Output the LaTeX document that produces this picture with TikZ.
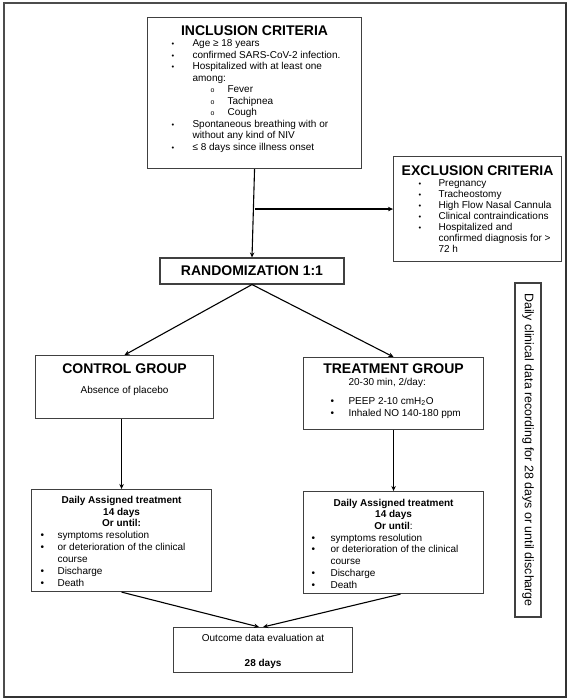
\documentclass[tikz,border=0pt]{standalone}
\usepackage{fontspec}
\setmainfont{Liberation Sans}
\usetikzlibrary{arrows.meta}
\setlength{\parskip}{0pt}
\newcommand{\pane}[3]{\begin{minipage}[t][#2][t]{#1}#3\end{minipage}}
\newcommand{\lin}[4]{\par\noindent\hangindent=#2\hangafter=1\hspace*{#1}\makebox[\dimexpr#2-#1\relax][l]{#3}#4}
\newcommand{\dotb}{{\fontsize{7.5}{7.5}\selectfont\textbullet}}
\newcommand{\ringb}{{\fontsize{7}{7}\selectfont o}}
\newcommand{\ttl}[1]{{\centering\fontsize{14}{14}\selectfont\bfseries #1\par}}

\begin{document}
\begin{tikzpicture}[x=1pt, y=-1pt]
			\tikzset{
				box/.style={draw=black!75, line width=1.1pt, inner sep=0pt},
				arr/.style={-{Stealth[length=5pt,width=4.5pt]}, line width=1.1pt}
			}
			%%%%% START %%%%%
			
			\useasboundingbox (0,0) rectangle (571,700);
			\draw[line width=1.2pt, color=black!70] (4,3) rectangle (566,697);
			\draw[line width=2pt, color=black!80] (4,697) -- (566,697) -- (566,3);
			
			\node[box, anchor=north west] (inc) at (147,17) {\pane{214pt}{151pt}{\vspace*{8pt}%
				\ttl{INCLUSION CRITERIA}\fontsize{10}{11.5}\selectfont
				\lin{24pt}{45pt}{\dotb}{Age ≥ 18 years}
				\lin{24pt}{45pt}{\dotb}{confirmed SARS-CoV-2 infection.}
				\lin{24pt}{45pt}{\dotb}{Hospitalized with at least one\\among:}
				\lin{63pt}{80pt}{\ringb}{Fever}
				\lin{63pt}{80pt}{\ringb}{Tachipnea}
				\lin{63pt}{80pt}{\ringb}{Cough}
				\lin{24pt}{45pt}{\dotb}{Spontaneous breathing with or\\without any kind of NIV}
				\lin{24pt}{45pt}{\dotb}{≤ 8 days since illness onset}\par}};
			
			\node[box, anchor=north west] (excl) at (393,156) {\pane{168pt}{105pt}{\vspace*{9pt}%
				\ttl{EXCLUSION CRITERIA}\fontsize{10}{11}\selectfont
				\lin{25pt}{45pt}{\dotb}{Pregnancy}
				\lin{25pt}{45pt}{\dotb}{Tracheostomy}
				\lin{25pt}{45pt}{\dotb}{High Flow Nasal Cannula}
				\lin{25pt}{45pt}{\dotb}{Clinical contraindications}
				\lin{25pt}{45pt}{\dotb}{Hospitalized and\\confirmed diagnosis for >\\72 h}\par}};
			
			\node[box, minimum width=184pt, minimum height=26pt, font=\fontsize{14}{14}\selectfont\bfseries] (rand) at (252,271) {RANDOMIZATION 1:1};
			
			\node[box, anchor=north west] (ctrl) at (35,355) {\pane{178pt}{63pt}{\vspace*{8pt}%
				\ttl{CONTROL GROUP}
				{\centering\fontsize{10}{20.5}\selectfont Absence of placebo\par}}};
			
			\node[box, anchor=north west] (treat) at (303,357) {\pane{180pt}{72pt}{\vspace*{6pt}%
				\ttl{TREATMENT GROUP}\fontsize{10}{12.5}\selectfont
				\lin{45pt}{45pt}{}{20-30 min, 2/day:}
				\fontsize{10}{12}\selectfont\par\vspace{7pt}
				\lin{27pt}{45pt}{\textbullet}{PEEP 2-10 cmH\textsubscript{2}O}
				\lin{27pt}{45pt}{\textbullet}{Inhaled NO 140-180 ppm}\par}};
			
			\node[box, anchor=north west] (cdaily) at (31,489) {\pane{180pt}{102pt}{\vspace*{6.3pt}%
				\fontsize{10}{11.9}\selectfont
				{\centering\bfseries Daily Assigned treatment\\14 days\\Or until:\par}
				\lin{9pt}{26pt}{\textbullet}{symptoms resolution}
				\lin{9pt}{26pt}{\textbullet}{or deterioration of the clinical\\course}
				\lin{9pt}{26pt}{\textbullet}{Discharge}
				\lin{9pt}{26pt}{\textbullet}{Death}\par}};
			
			\node[box, anchor=north west] (tdaily) at (303,491) {\pane{180pt}{102pt}{\vspace*{7.3pt}%
				\fontsize{10}{11.7}\selectfont
				{\centering\bfseries Daily Assigned treatment\\14 days\\Or until\mdseries:\par}
				\lin{8pt}{27pt}{\textbullet}{symptoms resolution}
				\lin{8pt}{27pt}{\textbullet}{or deterioration of the clinical\\course}
				\lin{8pt}{27pt}{\textbullet}{Discharge}
				\lin{8pt}{27pt}{\textbullet}{Death}\par}};
			
			\node[box, anchor=north west] (out) at (173,627) {\pane{179pt}{45pt}{\vspace*{6.2pt}%
				\fontsize{10}{12.5}\selectfont
				{\centering Outcome data evaluation at\\[12.5pt]\textbf{28 days}\par}}};
			
			\node[box, rotate=-90, minimum width=334pt, minimum height=26pt, font=\fontsize{12.4}{12.4}\selectfont] (side) at (528,450) {Daily clinical data recording for 28 days or until discharge};
			
			% connectors
			\coordinate (split) at (inc.south |- excl.west);
			\draw[arr] (inc.south) -- (rand.north);
			\draw[arr] (split) -- (excl.west);
			\draw[arr] (rand.south) -- (ctrl.north);
			\draw[arr] (rand.south) -- (treat.north);
			\draw[arr] (cdaily.north |- ctrl.south) -- (cdaily.north);
			\draw[arr] (treat.south) -- (tdaily.north);
			\draw[arr] (cdaily.south) -- ([xshift=-4pt]out.north);
			\draw[arr] ([xshift=7pt]tdaily.south) -- (out.north);
			
			%%%%% END %%%%%
\end{tikzpicture}
\end{document}
